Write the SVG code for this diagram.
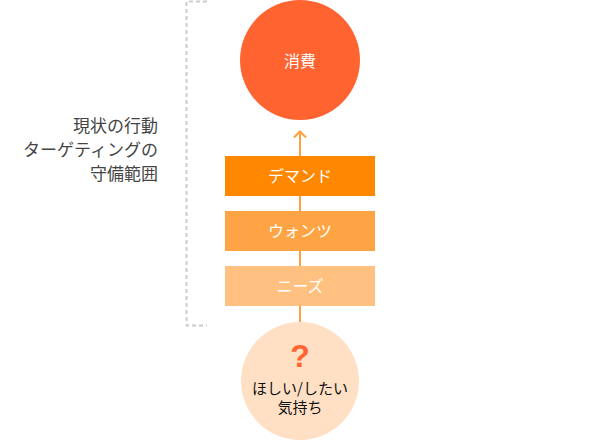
<svg xmlns="http://www.w3.org/2000/svg" width="600" height="441" viewBox="0 0 600 441">
<style>
text{font-family:"Noto Sans CJK JP","Noto Sans",sans-serif;font-size:16px;text-anchor:middle}
.w{fill:#fff}
.lbl{fill:#444;text-anchor:end;font-size:17px}
.dark{fill:#111;font-size:15px}
.conn{stroke:#FFA040;stroke-width:2;fill:none}
.brk{stroke:#cccccc;stroke-width:2;fill:none;stroke-dasharray:4 3}
</style>
<rect width="600" height="441" fill="#fff"/>
<g id="bracket">
<path class="brk" d="M207 1.5H186.5V325.5H207"/>
</g>
<g id="label">
<text class="lbl" x="158" y="132">現状の行動</text>
<text class="lbl" x="158" y="156">ターゲティングの</text>
<text class="lbl" x="158" y="180">守備範囲</text>
</g>
<g id="connectors">
<path class="conn" d="M300 322V131"/>
<path class="conn" d="M294 137.5L300 131.5L306 137.5"/>
</g>
<g id="consume">
<circle cx="300" cy="60" r="60" fill="#FF6430"/>
<text class="w" x="300" y="67">消費</text>
</g>
<g id="demand">
<rect x="225" y="156" width="150" height="40" fill="#FF8800"/>
<text class="w" x="300" y="182">デマンド</text>
</g>
<g id="wants">
<rect x="225" y="211" width="150" height="40" fill="#FFA444"/>
<text class="w" x="300" y="237">ウォンツ</text>
</g>
<g id="needs">
<rect x="225" y="266" width="150" height="40" fill="#FFC080"/>
<text class="w" x="300" y="292">ニーズ</text>
</g>
<g id="feeling">
<circle cx="300" cy="381" r="59" fill="#FFE0C4"/>
<text x="300" y="367" fill="#FF6430" style="font-size:32px;font-weight:bold;font-family:'Liberation Sans',sans-serif">?</text>
<text class="dark" x="300" y="394">ほしい/したい</text>
<text class="dark" x="300" y="413">気持ち</text>
</g>
</svg>
